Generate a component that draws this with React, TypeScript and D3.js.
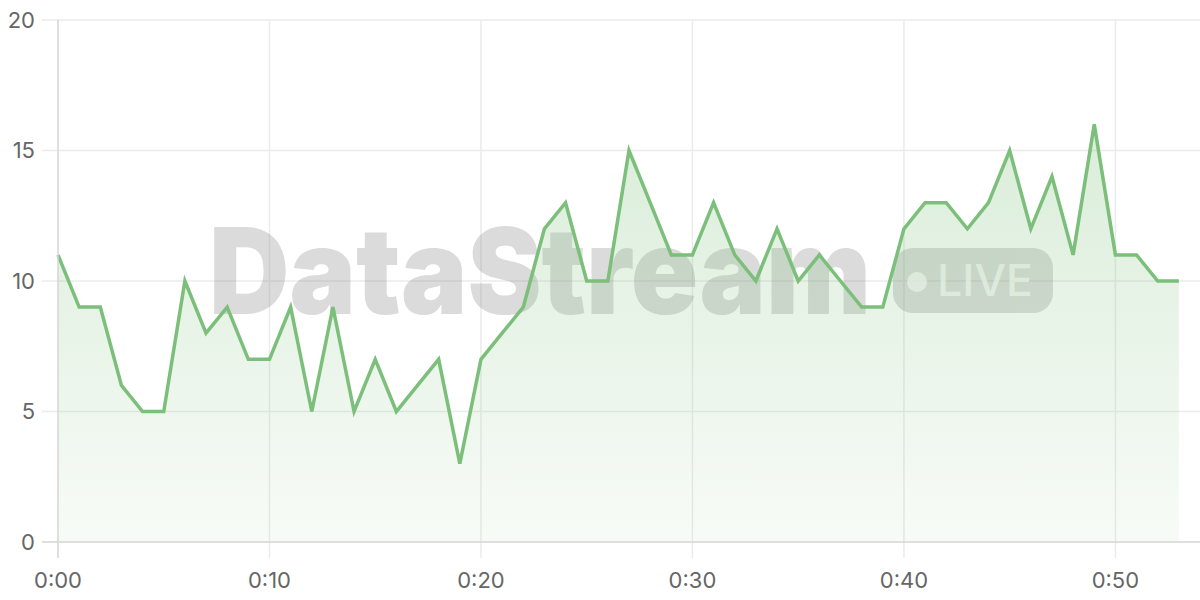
import * as d3 from 'd3';
import React from 'react';

const minutes = d3.range(0, 54);
const values = [
  11, 9, 9, 6, 5, 5, 10, 8, 9, 7, 7, 9, 5, 9, 5, 7, 5, 6, 7, 3, 7, 8, 9, 12, 13, 10, 10, 15, 13, 11,
  11, 13, 11, 10, 12, 10, 11, 10, 9, 9, 12, 13, 13, 12, 13, 15, 12, 14, 11, 16, 11, 11, 10, 10,
];
const xTicks = [0, 10, 20, 30, 40, 50];
const yTicks = [0, 5, 10, 15, 20];

export default function App() {
  const svgRef = React.useRef<SVGSVGElement>(null);

  React.useEffect(() => {
    if (svgRef.current == null) {
      return;
    }
    const w = 1200;
    const svg = d3.select(svgRef.current);
    svg.selectAll('*').remove();

    const xScale = d3.scaleLinear().domain([0, 54]).range([58, w]);
    const yScale = d3.scaleLinear().domain([0, 20]).range([542, 20]);

    const defs = svg.append('defs');
    const grad = defs
      .append('linearGradient')
      .attr('id', 'areaFill')
      .attr('x1', 0)
      .attr('y1', 0)
      .attr('x2', 0)
      .attr('y2', 1);
    grad.append('stop').attr('offset', '0%').attr('stop-color', '#7cbf7a').attr('stop-opacity', 0.28);
    grad.append('stop').attr('offset', '100%').attr('stop-color', '#7cbf7a').attr('stop-opacity', 0.06);

    // grid
    svg
      .append('g')
      .selectAll('line')
      .data(yTicks.slice(1))
      .join('line')
      .attr('x1', 42)
      .attr('x2', w)
      .attr('y1', (d) => yScale(d))
      .attr('y2', (d) => yScale(d))
      .attr('stroke', '#ebebeb')
      .attr('stroke-width', 1.5);
    svg
      .append('g')
      .selectAll('line')
      .data(xTicks.slice(1))
      .join('line')
      .attr('x1', (d) => xScale(d))
      .attr('x2', (d) => xScale(d))
      .attr('y1', 20)
      .attr('y2', 558)
      .attr('stroke', '#ebebeb')
      .attr('stroke-width', 1.5);

    // watermark
    const wm = svg.append('g').attr('opacity', 0.3);
    wm.append('text')
      .attr('x', 209)
      .attr('y', 314)
      .attr('textLength', 662)
      .attr('lengthAdjust', 'spacingAndGlyphs')
      .style('font', '900 120px Inter, "Open Sans", sans-serif')
      .attr('fill', '#8a8a8a')
      .text('DataStream');
    wm.append('rect')
      .attr('x', 893)
      .attr('y', 248)
      .attr('width', 160)
      .attr('height', 65)
      .attr('rx', 20)
      .attr('fill', '#8a8a8a');
    const badge = svg.append('g').attr('opacity', 0.7);
    badge.append('circle').attr('cx', 917).attr('cy', 282).attr('r', 10).attr('fill', '#ffffff');
    badge
      .append('text')
      .attr('x', 937)
      .attr('y', 296)
      .attr('textLength', 96)
      .attr('lengthAdjust', 'spacingAndGlyphs')
      .style('font', '500 44px Inter, "Open Sans", sans-serif')
      .attr('fill', '#ffffff')
      .text('LIVE');

    // area + line
    const area = d3
      .area<number>()
      .x((_, i) => xScale(minutes[i]))
      .y0(yScale(0))
      .y1((d) => yScale(d));
    svg.append('path').datum(values).attr('d', area).attr('fill', 'url(#areaFill)');

    const line = d3
      .line<number>()
      .x((_, i) => xScale(minutes[i]))
      .y((d) => yScale(d));
    svg
      .append('path')
      .datum(values)
      .attr('d', line)
      .attr('fill', 'none')
      .attr('stroke', '#7cbf7a')
      .attr('stroke-width', 3.5)
      .attr('stroke-linejoin', 'miter');

    // axes lines
    svg
      .append('line')
      .attr('x1', 58)
      .attr('x2', 58)
      .attr('y1', 20)
      .attr('y2', 558)
      .attr('stroke', '#d4d4d4')
      .attr('stroke-width', 1.5);
    svg
      .append('line')
      .attr('x1', 42)
      .attr('x2', w)
      .attr('y1', yScale(0))
      .attr('y2', yScale(0))
      .attr('stroke', '#d4d4d4')
      .attr('stroke-width', 1.5);

    // tick labels
    svg
      .append('g')
      .selectAll('text')
      .data(yTicks)
      .join('text')
      .attr('x', 35)
      .attr('y', (d) => yScale(d))
      .attr('dy', '0.35em')
      .attr('text-anchor', 'end')
      .style('font', '22px Inter, sans-serif')
      .attr('fill', '#666666')
      .text((d) => `${d}`);
    svg
      .append('g')
      .selectAll('text')
      .data(xTicks)
      .join('text')
      .attr('x', (d) => xScale(d))
      .attr('y', 580)
      .attr('dy', '0.35em')
      .attr('text-anchor', 'middle')
      .style('font', '22px Inter, sans-serif')
      .attr('fill', '#666666')
      .text((d) => `0:${d3.format('02d')(d)}`);
  }, []);

  return (
    <svg
      ref={svgRef}
      width={1200}
      height={600}
      style={{ position: 'absolute', left: 0, top: 0, background: '#ffffff' }}
    ></svg>
  );
}
